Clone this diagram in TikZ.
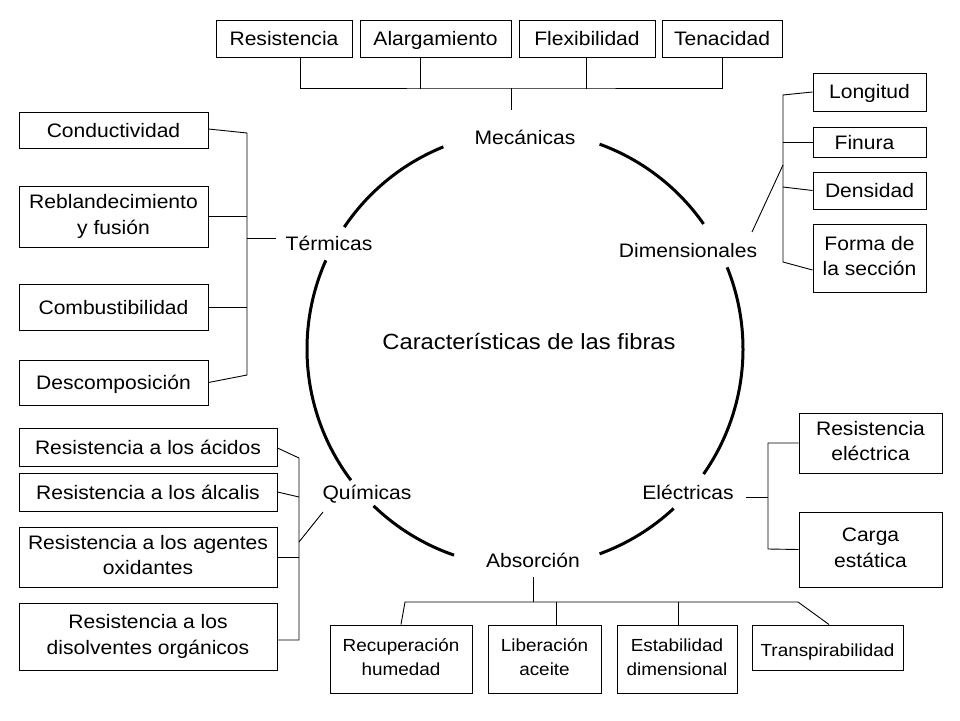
\documentclass[tikz,border=0pt]{standalone}
\usepackage{fontspec}
\setmainfont{Liberation Sans}[FakeStretch=1.08]
\newcommand\puntal{\rule[-4pt]{0pt}{22pt}}
\newcommand\puntalalto{\rule[-4pt]{0pt}{27pt}}
\newcommand\puntalb{\rule[-3.5pt]{0pt}{19.5pt}}
\newcommand\puntalbalto{\rule[-3.5pt]{0pt}{24.5pt}}
\begin{document}
\begin{tikzpicture}[x=1pt,y=1pt,
    caja/.style={draw, line width=1pt, inner sep=0pt, align=center, font=\fontsize{19.5}{25.5}\selectfont,
      execute at begin node=\puntal, execute at end node=\puntal},
    doble/.style={execute at begin node=\puntalalto},
    cajab/.style={draw, line width=1pt, inner sep=0pt, align=center, font=\fontsize{17.5}{24}\selectfont,
      execute at begin node=\puntalbalto, execute at end node=\puntalb},
    etiq/.style={inner sep=0pt, font=\fontsize{19.5}{25}\selectfont, execute at begin node=\puntal},
    rama/.style={line width=0.9pt},
    circulo/.style={line width=3pt}]
  \fill[white] (0,0) rectangle (960,-720);
  \useasboundingbox (0,0) rectangle (960,-720);
  \coordinate (centro) at (525,-349);
  \foreach \a/\b in {35/70, 112/146, 156/217, 226/251, 290/313, 325/382}
    \draw[circulo] (centro) ++(\a:218) arc[start angle=\a, end angle=\b, radius=218];
  \node[font=\fontsize{22}{26}\selectfont] (titulo) at (529,-342) {Características de las fibras};
  \node[etiq] (mec) at (525,-137) {Mecánicas};
  \node[etiq] (term) at (329,-243) {Térmicas};
  \node[etiq] (dim) at (688,-250) {Dimensionales};
  \node[etiq] (quim) at (367,-492) {Químicas};
  \node[etiq] (elec) at (688,-492) {Eléctricas};
  \node[etiq] (abs) at (533,-560) {Absorción};
  \node[caja, minimum width=136, minimum height=37] (resist) at (284,-38.5) {Resistencia};
  \node[caja, minimum width=151, minimum height=37] (alarg) at (435.5,-38.5) {Alargamiento};
  \node[caja, minimum width=136, minimum height=37] (flex) at (587,-38.5) {Flexibilidad};
  \node[caja, minimum width=120, minimum height=37] (tenac) at (722,-38.5) {Tenacidad};
  \coordinate (mecbus) at (511,-88);
  \draw[rama] ([xshift=16]resist.south) |- (mecbus) -| (tenac.south);
  \draw[rama] ([xshift=-15.5]alarg.south) -- ++(0,-31);
  \draw[rama] ([xshift=-1]flex.south) -- ++(0,-31);
  \draw[rama] (mecbus) -- ++(0,-22);
  \node[caja, minimum width=189, minimum height=36] (cond) at (113.5,-130) {Conductividad};
  \node[caja, doble, minimum width=189, minimum height=61] (rebl) at (113.5,-216.5) {Reblandecimiento\\y fusión};
  \node[caja, minimum width=189, minimum height=46] (comb) at (113.5,-307) {Combustibilidad};
  \node[caja, minimum width=189, minimum height=45] (desc) at (113.5,-382.5) {Descomposición};
  \coordinate (term1) at (247,-133);
  \coordinate (term2) at (247,-375);
  \coordinate (termj) at (247,-238);
  \draw[rama] ([yshift=1]cond.east) -- (term1) -- (term2) -- (desc.east);
  \draw[rama] (rebl.east) -- (rebl.east -| term1);
  \draw[rama] (comb.east) -- (comb.east -| term1);
  \draw[rama] (termj) -- ++(29,0);
  \node[caja, minimum width=113, minimum height=38] (long) at (869.5,-92) {Longitud};
  \node[caja, minimum width=113, minimum height=30] (finura) at (869.5,-142) {\hspace{-10pt}Finura};
  \node[caja, minimum width=113, minimum height=37] (dens) at (869.5,-190.5) {Densidad};
  \node[caja, doble, minimum width=113, minimum height=68] (forma) at (869.5,-258) {Forma de\\la sección};
  \coordinate (dim1) at (783,-95);
  \coordinate (dim2) at (783,-262);
  \coordinate (dim3) at (783,-187);
  \coordinate (dimj) at (783,-165);
  \coordinate (dimf) at (752,-232);
  \draw[rama] (long.west) -- (dim1) -- (dim2) -- ([yshift=-12]forma.west);
  \draw[rama] (finura.west) -- (finura.west -| dim1);
  \draw[rama] (dens.west) -- (dim3);
  \draw[rama] (dimj) -- (dimf);
  \node[caja, minimum width=258, minimum height=38] (acid) at (148,-447) {Resistencia a los ácidos};
  \node[caja, minimum width=258, minimum height=38] (alcal) at (148,-492) {Resistencia a los álcalis};
  \node[caja, doble, minimum width=258, minimum height=60] (oxid) at (148,-557) {Resistencia a los agentes\\oxidantes};
  \node[caja, doble, minimum width=258, minimum height=67] (disol) at (148,-636.5) {Resistencia a los\\disolventes orgánicos};
  \coordinate (qui1) at (299,-458);
  \coordinate (qui2) at (299,-640);
  \coordinate (qui3) at (299,-497);
  \coordinate (quij) at (299,-542);
  \coordinate (quif) at (323,-512);
  \draw[rama] ([yshift=-1]acid.east) -- (qui1) -- (qui2) -- (disol.east |- qui2);
  \draw[rama] (alcal.east) -- (qui3);
  \draw[rama] (oxid.east) -- (oxid.east -| qui1);
  \draw[rama] (quij) -- (quif);
  \node[caja, doble, minimum width=143, minimum height=60] (rese) at (870.5,-443) {Resistencia\\eléctrica};
  \node[caja, doble, minimum width=143, minimum height=75] (carga) at (870.5,-549.5) {Carga\\estática};
  \coordinate (ele1) at (768,-443);
  \coordinate (ele2) at (768,-549);
  \coordinate (elej) at (768,-497);
  \draw[rama] (rese.west) -- (ele1) -- (ele2) -- (carga.west);
  \draw[rama] (elej) -- ++(-22,0);
  \node[cajab, minimum width=142, minimum height=68] (recup) at (401,-659) {Recuperación\\humedad};
  \node[cajab, minimum width=113, minimum height=68] (liber) at (544.5,-659) {Liberación\\aceite};
  \node[cajab, minimum width=120, minimum height=68] (estab) at (677,-659) {Estabilidad\\dimensional};
  \node[cajab, execute at begin node=\puntalb, minimum width=151, minimum height=45] (transp) at (827.5,-647.5) {Transpirabilidad};
  \coordinate (absbus) at (533,-602);
  \draw[rama] (absbus) -- ++(0,25);
  \draw[rama] (recup.north) -- (405,-602) -- (798,-602) -- ([xshift=1.5]transp.north);
  \draw[rama] ([xshift=12]liber.north) -- ++(0,23);
  \draw[rama] ([xshift=1]estab.north) -- ++(0,23);
\end{tikzpicture}
\end{document}
